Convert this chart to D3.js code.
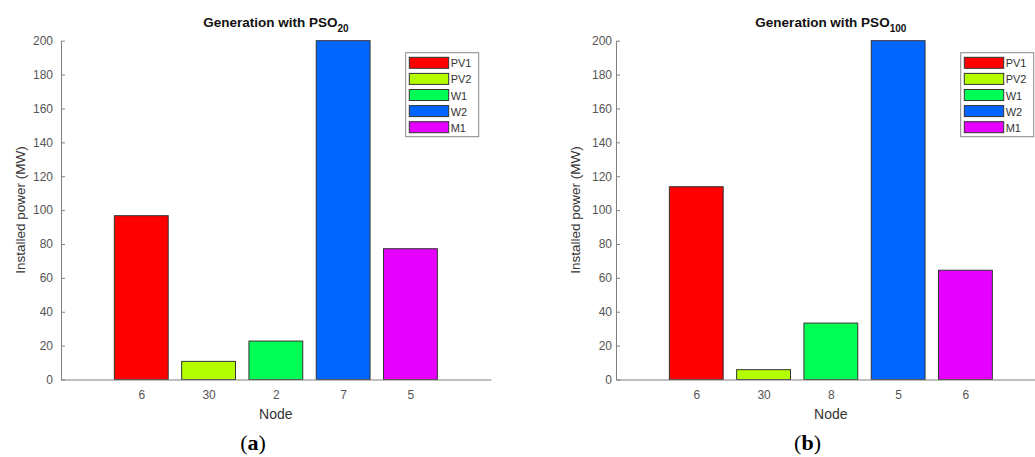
<!DOCTYPE html>
<html>
<head>
<meta charset="utf-8">
<script src="https://cdn.jsdelivr.net/npm/d3@7"></script>
<style>
  body { margin: 0; background: #fff; }
  text { font-family: "Liberation Sans", Arial, sans-serif; }
</style>
</head>
<body>
<svg id="fig" width="1035" height="457"></svg>
<script>
// data
const sources = ["PV1", "PV2", "W1", "W2", "M1"];
const srcColors = ["#ff0000", "#b3ff00", "#00ff55", "#0066ff", "#e600ff"];

const nodesA = ["6", "30", "2", "7", "5"];
const powerA = [96.7, 10.7, 22.7, 200, 77.2];

const nodesB = ["6", "30", "8", "5", "6"];
const powerB = [113.8, 5.8, 33.3, 200, 64.5];

const yTicks = [0, 20, 40, 60, 80, 100, 120, 140, 160, 180, 200];

const svg = d3.select("#fig");

const top_y = 40.7, base_y = 379.5;
const axisW = 429.7;

function panel(left, nodes, values, sub, letter, letterX, labelPad) {
    const g = svg.append("g");

    const x = d3.scaleLinear().domain([-0.193, 6.193]).range([left, left + axisW]);
    const y = d3.scaleLinear().domain([0, 200]).range([base_y, top_y]);
    const bw = x(0.8) - x(0);

    // bars
    g.selectAll("rect.bar")
        .data(values)
        .enter()
        .append("rect")
        .attr("class", "bar")
        .attr("x", (d, i) => x(i + 1) - bw / 2)
        .attr("width", bw)
        .attr("y", d => y(d))
        .attr("height", d => y(0) - y(d))
        .attr("fill", (d, i) => srcColors[i])
        .attr("stroke", "#333")
        .attr("stroke-width", 1);

    // y axis
    const ya = g.append("g")
        .attr("transform", "translate(" + left + ",0)")
        .call(d3.axisLeft(y).tickValues(yTicks).tickSizeInner(-4).tickSizeOuter(0).tickPadding(labelPad));
    ya.select(".domain").attr("stroke", "#808080");
    ya.selectAll(".tick line").attr("stroke", "#808080");
    ya.selectAll("text").attr("fill", "#555").style("font-size", "12px")
        .style("font-family", "'Liberation Sans', Arial, sans-serif");

    // x axis
    const xa = g.append("g")
        .attr("transform", "translate(0," + base_y + ")")
        .call(d3.axisBottom(x).tickValues([1, 2, 3, 4, 5]).tickFormat((d, i) => nodes[i]).tickSize(0).tickPadding(11));
    xa.select(".domain").attr("stroke", "#808080");
    xa.selectAll("text").attr("fill", "#555").style("font-size", "12px")
        .style("font-family", "'Liberation Sans', Arial, sans-serif");

    const cx = x(3);

    // axis titles
    g.append("text")
        .attr("x", cx).attr("y", 419)
        .attr("text-anchor", "middle")
        .style("font-size", "14px").attr("fill", "#333")
        .text("Node");

    g.append("text")
        .attr("transform", "translate(" + (left - 41) + "," + ((top_y + base_y) / 2) + ") rotate(-90)")
        .attr("text-anchor", "middle")
        .attr("dy", "0.35em")
        .style("font-size", "13.5px").attr("fill", "#333")
        .text("Installed power (MW)");

    // title with subscript
    const t = g.append("text")
        .attr("x", cx).attr("y", 27)
        .attr("text-anchor", "middle")
        .style("font-size", "13.5px").style("font-weight", "bold").attr("fill", "#111");
    t.append("tspan").text("Generation with PSO");
    t.append("tspan").attr("dy", 5).style("font-size", "10px").text(sub);

    // legend
    const lx = left + axisW - 12 - 73;
    const ly = 52.7;
    const lg = g.append("g").attr("transform", "translate(" + lx + "," + ly + ")");
    lg.append("rect")
        .attr("width", 73).attr("height", 84)
        .attr("fill", "#fff").attr("stroke", "#888").attr("stroke-width", 1);
    const rows = lg.selectAll("g.row")
        .data(sources)
        .enter()
        .append("g")
        .attr("class", "row")
        .attr("transform", (d, i) => "translate(0," + (4.6 + i * 16.1) + ")");
    rows.append("rect")
        .attr("x", 3.6).attr("width", 39.4).attr("height", 11)
        .attr("fill", (d, i) => srcColors[i])
        .attr("stroke", "#333").attr("stroke-width", 1);
    rows.append("text")
        .attr("x", 45).attr("y", 10)
        .style("font-size", "11px").attr("fill", "#333")
        .text(d => d);

    // panel letter
    const lt = g.append("text")
        .attr("x", letterX).attr("y", 450)
        .attr("text-anchor", "middle")
        .style("font-family", "'Liberation Serif', 'DejaVu Serif', serif")
        .style("font-size", "22px").attr("fill", "#000");
    lt.append("tspan").text("(");
    lt.append("tspan").style("font-weight", "bold").text(letter);
    lt.append("tspan").text(")");
}

panel(61, nodesA, powerA, "20", "a", 253, 8);
panel(616, nodesB, powerB, "100", "b", 807.5, 4);
</script>
</body>
</html>
